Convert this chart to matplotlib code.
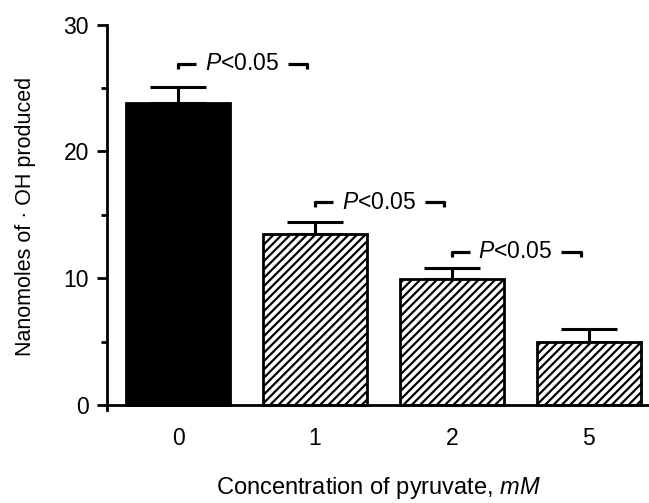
import numpy as np
import matplotlib.pyplot as plt

plt.rcParams['font.family'] = ['Liberation Sans', 'DejaVu Sans']
plt.rcParams['mathtext.fontset'] = 'custom'
plt.rcParams['mathtext.it'] = 'Liberation Sans:italic'
plt.rcParams['mathtext.rm'] = 'Liberation Sans'
plt.rcParams['hatch.linewidth'] = 1.6

# datos
categorias = ['0', '1', '2', '5']
valores = [23.8, 13.45, 9.95, 5.0]
errores = [1.3, 1.0, 0.85, 0.95]
rellenos = ['solid', 'hatch', 'hatch', 'hatch']
# comparaciones: (barra izquierda, altura, texto)
comparaciones = [(0, 26.9, r'$\it{P}$<0.05'),
                 (1, 16.0, r'$\it{P}$<0.05'),
                 (2, 12.1, r'$\it{P}$<0.05')]


def main():
    fig = plt.figure(figsize=(6.49, 5.03), dpi=100)
    ax = fig.add_axes([0.165, 0.185, 0.835, 0.771])
    x = np.arange(len(categorias))

    for i, (v, r) in enumerate(zip(valores, rellenos)):
        if r == 'solid':
            ax.bar(x[i], v, width=0.76, color='black', edgecolor='black', lw=2, zorder=2)
        else:
            ax.bar(x[i], v, width=0.76, color='white', edgecolor='black', lw=2,
                   hatch='////', zorder=2)
    ax.errorbar(x, valores, yerr=[np.zeros(len(errores)), errores], fmt='none',
                ecolor='black', elinewidth=2.2, capsize=20, capthick=2.2, zorder=1)

    # corchetes de significancia
    for i, y, txt in comparaciones:
        ax.plot([i, i, i + 0.13], [y - 0.4, y, y], color='black', lw=2.3, solid_capstyle='butt')
        ax.plot([i + 0.8, i + 0.94, i + 0.94], [y, y, y - 0.4], color='black', lw=2.3,
                solid_capstyle='butt')
        ax.text(i + 0.465, y, txt, ha='center', va='center', fontsize=16.5)

    ax.set_xlim(-0.52, 3.44)
    ax.set_ylim(-0.4, 30.2)
    ax.spines['top'].set_visible(False)
    ax.spines['right'].set_visible(False)
    ax.spines['left'].set_linewidth(2)
    ax.spines['bottom'].set_linewidth(2)
    ax.spines['left'].set_bounds(-0.4, 30)
    ax.spines['bottom'].set_position(('data', 0))
    ax.set_yticks([0, 10, 20, 30])
    ax.set_yticks([5, 15, 25], minor=True)
    ax.tick_params(axis='y', which='major', direction='out', length=7, width=2, labelsize=16.5, pad=6)
    ax.tick_params(axis='y', which='minor', direction='out', length=4, width=2)
    ax.set_xticks(x)
    ax.set_xticklabels(categorias)
    ax.tick_params(axis='x', length=0, labelsize=16.5, pad=16)
    ax.set_ylabel('Nanomoles of · OH produced', fontsize=15.5, labelpad=20)
    ax.set_xlabel(r'Concentration of pyruvate, $\it{mM}$', fontsize=17, labelpad=18)

    fig.savefig('out.png', dpi=100)


if __name__ == "__main__": main()
